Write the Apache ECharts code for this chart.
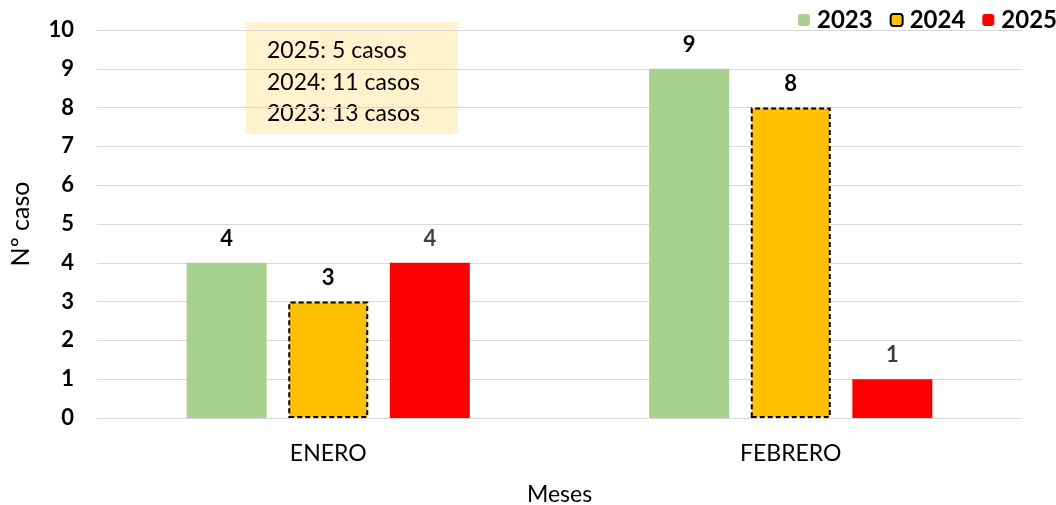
<!DOCTYPE html>
<html><head><meta charset="utf-8">
<script src="https://cdn.jsdelivr.net/npm/echarts@6/dist/echarts.min.js"></script>
<style>html,body{margin:0;padding:0;background:#fff}#c{width:1056px;height:505px}</style>
</head><body><div id="c"></div>
<script>
const categories = ['ENERO', 'FEBRERO'];
const s2023 = [4, 9];
const s2024 = [3, 8];
const s2025 = [4, 1];
const seriesNames = ['2023', '2024', '2025'];
const yTicks = [0, 1, 2, 3, 4, 5, 6, 7, 8, 9, 10];
const noteLines = ['2025: 5 casos', '2024: 11 casos', '2023: 13 casos'];

const F = 'Lato, "Open Sans", sans-serif';
const chart = echarts.init(document.getElementById('c'));
const lbl = (color) => ({show: true, position: 'top', distance: 13, fontFamily: F, fontWeight: 'bold', fontSize: 22, color});
chart.setOption({
  animation: false,
  textStyle: {fontFamily: F},
  legend: {
    top: 3, right: -6, itemWidth: 12, itemHeight: 12, itemGap: 17,
    textStyle: {fontFamily: F, fontWeight: 'bold', fontSize: 24, color: '#000', padding: [0, 0, 0, 2]},
    data: seriesNames
  },
  grid: {left: 97, right: 34, top: 30, bottom: 87, containLabel: false, outerBoundsMode: 'none'},
  xAxis: {
    type: 'category', data: categories,
    name: 'Meses', nameLocation: 'middle', nameGap: 65,
    nameTextStyle: {fontFamily: F, fontSize: 23, color: '#000'},
    axisLine: {lineStyle: {color: '#d9d9d9'}}, axisTick: {show: false},
    axisLabel: {fontFamily: F, fontSize: 23, color: '#000', margin: 24}
  },
  yAxis: {
    type: 'value', min: yTicks[0], max: yTicks[yTicks.length - 1], interval: 1,
    name: 'Nº caso', nameLocation: 'middle', nameGap: 64, nameRotate: 90,
    nameTextStyle: {fontFamily: F, fontSize: 25, color: '#000'},
    axisLine: {show: false}, axisTick: {show: false},
    splitLine: {lineStyle: {color: '#d9d9d9', width: 1}},
    axisLabel: {fontFamily: F, fontWeight: 'bold', fontSize: 22, color: '#000', margin: 23}
  },
  series: [
    {name: seriesNames[0], type: 'bar', data: s2023, barWidth: 80, barGap: '27%',
     itemStyle: {color: '#a9d18e'}, label: lbl('#000')},
    {name: seriesNames[1], type: 'bar', data: s2024, barWidth: 80, barGap: '27%',
     itemStyle: {color: '#ffc000', borderColor: '#000', borderWidth: 2, borderType: [5, 3]}, label: lbl('#000')},
    {name: seriesNames[2], type: 'bar', data: s2025, barWidth: 80, barGap: '27%',
     itemStyle: {color: '#ff0000'}, label: lbl('#404040')}
  ],
  graphic: [{
    type: 'group', left: 246, top: 22,
    children: [
      {type: 'rect', shape: {x: 0, y: 0, width: 212, height: 112}, style: {fill: '#fff2cc'}},
      {type: 'text', x: 21, y: 13, style: {text: noteLines.join('\n'), font: '23px ' + F, fill: '#000', lineHeight: 31.5}}
    ]
  }]
});
</script></body></html>
